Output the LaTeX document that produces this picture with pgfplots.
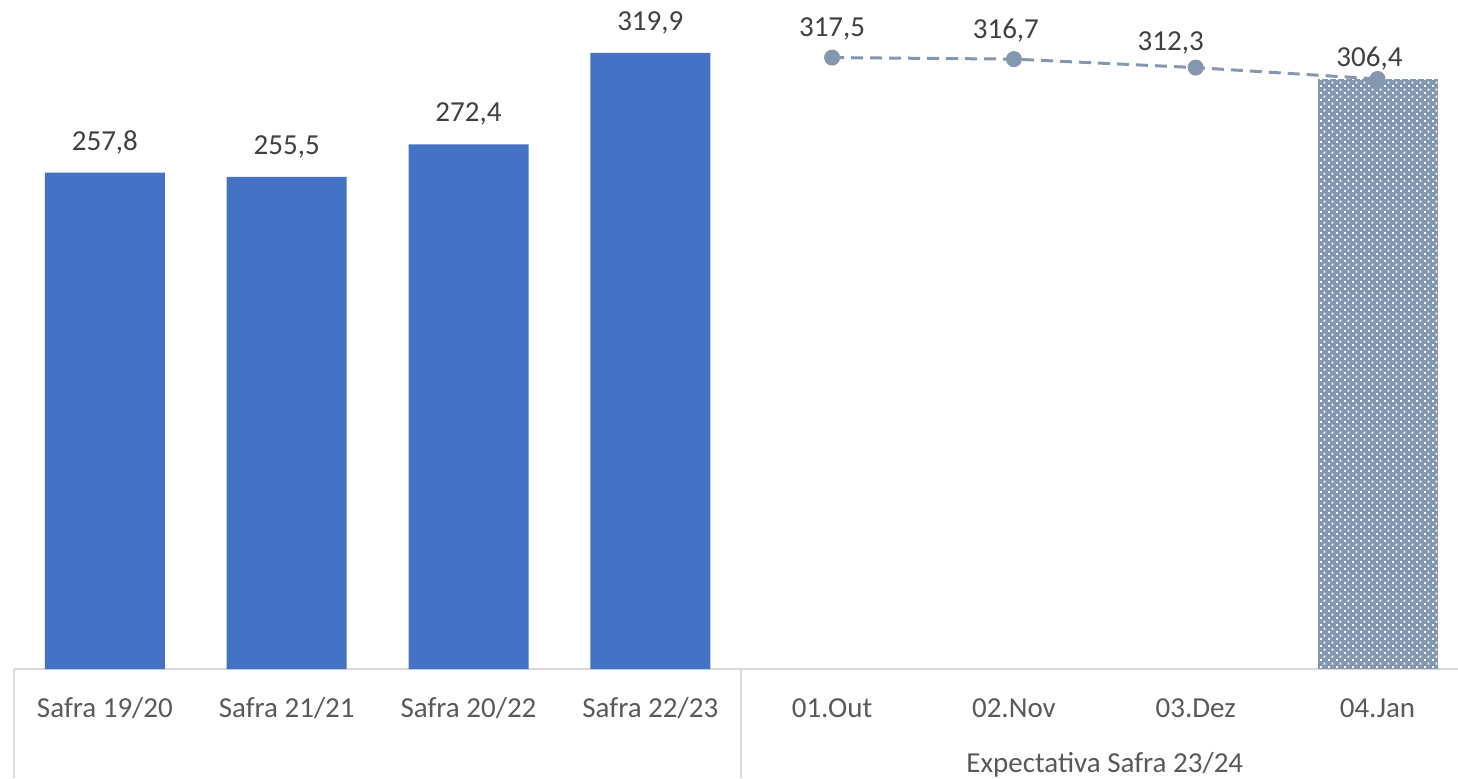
\documentclass[border=0pt]{standalone}
\usepackage{fontspec}
\setmainfont{Carlito}
\usepackage{pgfplots}
\pgfplotsset{compat=1.18}
\usetikzlibrary{patterns.meta}
\definecolor{barblue}{HTML}{4472C4}
\definecolor{slate}{HTML}{8497B0}
\definecolor{ticktext}{HTML}{595959}
\definecolor{labeltext}{HTML}{404040}
\definecolor{gridc}{HTML}{D9D9D9}
\tikzdeclarepattern{
  name=stagdots,
  type=uncolored,
  bounding box={(0,0) and (4pt,3.7pt)},
  tile size={(4pt,3.7pt)},
  code={
    \pgfpathrectangle{\pgfpointorigin}{\pgfpoint{1pt}{1pt}}
    \pgfpathrectangle{\pgfpoint{2pt}{1.85pt}}{\pgfpoint{1pt}{1pt}}
    \pgfusepath{fill}
  }
}
\pgfplotstableread{
x y dx dy
4 317.5 0 14.5
5 316.7 -4 14.5
6 312.3 -12.5 12.5
7 306.4 -4 10
}\linedata
\begin{document}
\begin{tikzpicture}[font=\fontsize{14.5pt}{17pt}\selectfont]
\path[use as bounding box] (0,0) rectangle (729pt,389pt);
\begin{axis}[
  at={(7pt,54.5pt)}, anchor=south west,
  scale only axis, width=727.2pt, height=334.5pt,
  xmin=-0.5, xmax=7.5, ymin=0, ymax=347.4,
  axis line style={draw=none},
  clip=false,
  ytick=\empty,
  xtick={0,...,7},
  xticklabels={Safra 19/20,Safra 21/21,Safra 20/22,Safra 22/23,01.Out,02.Nov,03.Dez,04.Jan},
  major tick length=0pt,
  xticklabel style={text=ticktext, anchor=center, yshift=-19.5pt},
  nodes near coords={\pgfmathprintnumber[use comma,fixed,fixed zerofill,precision=1,assume math mode=true]{\pgfplotspointmeta}},
]
\draw[gridc, line width=1pt] (axis cs:-0.5,0) -- (axis cs:7.5,0);
\draw[gridc, line width=1pt] (axis cs:-0.5,0) -- ([yshift=-54.5pt]axis cs:-0.5,0);
\draw[gridc, line width=1pt] (axis cs:3.5,0) -- ([yshift=-54.5pt]axis cs:3.5,0);
\addplot[ybar, bar width=60pt, bar shift=0pt, fill=barblue, draw=none,
  every node near coord/.append style={text=labeltext, anchor=center, yshift=15pt}]
  coordinates {(0,257.8) (1,255.5) (2,272.4) (3,319.9)};
\addplot[ybar, bar width=60pt, bar shift=0pt, fill=slate, draw=none,
  postaction={pattern=stagdots, pattern color=white},
  nodes near coords={}]
  coordinates {(7,306.4)};
\addplot[slate, line width=1.5pt, dash pattern=on 6pt off 3.5pt,
  mark=*, mark size=3.25pt, mark options={solid, fill=slate, draw=slate},
  visualization depends on=\thisrow{dx}\as\dx,
  visualization depends on=\thisrow{dy}\as\dy,
  every node near coord/.append style={text=labeltext, anchor=center, xshift=\dx pt, yshift=\dy pt}]
  table[x=x, y=y] {\linedata};
\node[text=ticktext] at ([yshift=-48pt]axis cs:5.5,0) {Expectativa Safra 23/24};
\end{axis}
\end{tikzpicture}
\end{document}
